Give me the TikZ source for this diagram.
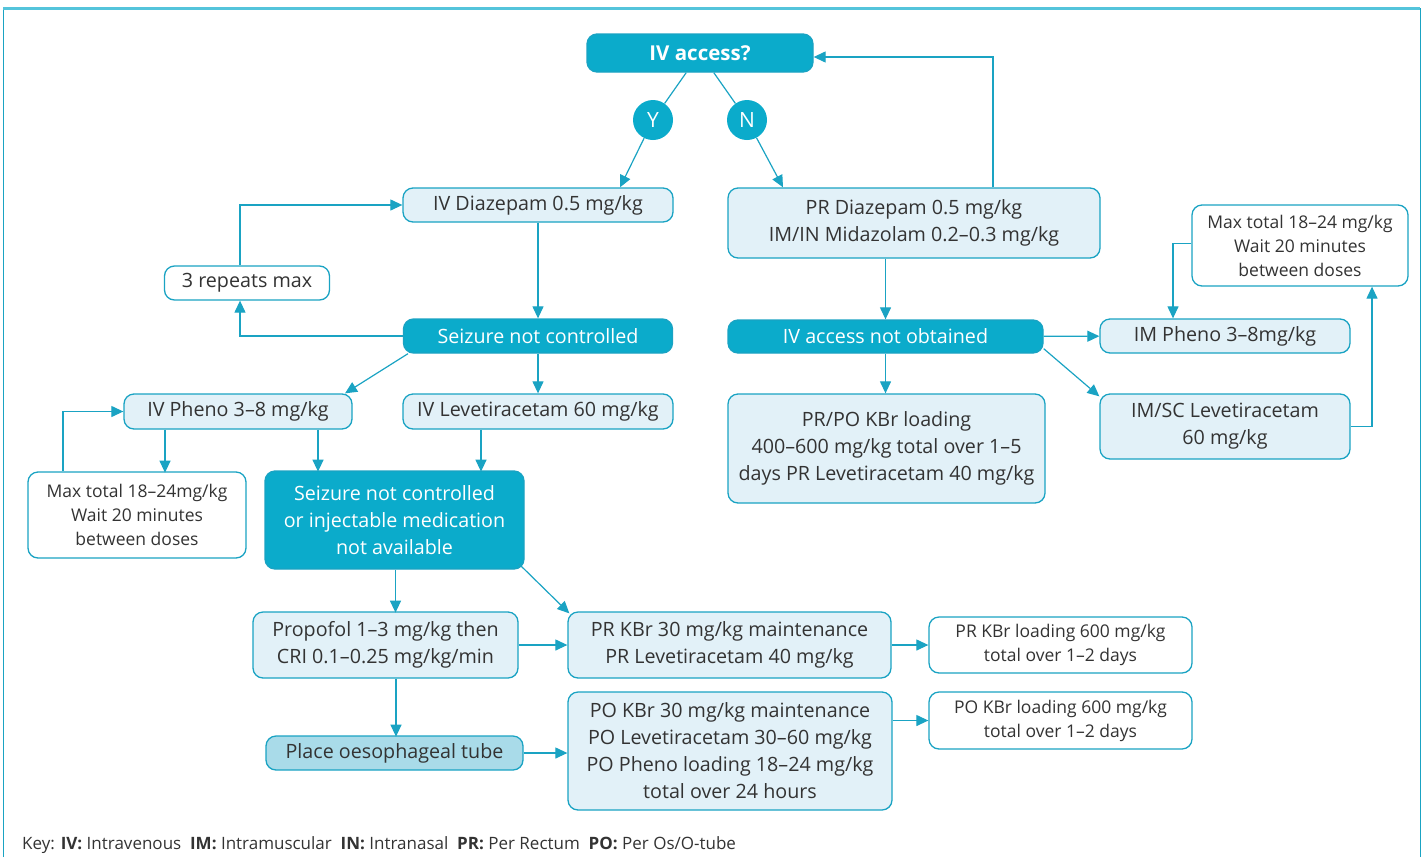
\documentclass[tikz,border=0pt]{standalone}
\usepackage{fontspec}
\setmainfont{Open Sans}
\usetikzlibrary{arrows.meta}
\definecolor{teal1}{HTML}{0BABCB}
\definecolor{edge1}{HTML}{1AA3C3}
\definecolor{light1}{HTML}{E2F1F8}
\definecolor{mid1}{HTML}{A9DBE9}
\definecolor{txt1}{HTML}{333333}
\tikzset{
  box/.style={draw=edge1, line width=1.3pt, rounded corners=10pt, fill=light1, text=txt1,
    align=center, inner sep=0pt, font=\fontsize{19.7}{27}\selectfont},
  darkbox/.style={box, fill=teal1, text=white},
  whitebox/.style={box, fill=white, font=\fontsize{17.5}{24}\selectfont},
  yn/.style={circle, fill=teal1, text=white, minimum size=40pt, inner sep=0pt, font=\fontsize{21}{24}\selectfont},
  line1/.style={draw=edge1, line width=1.2pt},
  arr/.style={line1, -{Triangle[length=12pt,width=11pt]}},
}
\begin{document}
\begin{tikzpicture}[x=1pt,y=-1pt]
\useasboundingbox (0,0) rectangle (1423,857);
% frame
\draw[draw=edge1, line width=1pt] (3,857) -- (3,8) -- (1420,8) -- (1420,857);
\draw[draw=teal1!70, line width=2.5pt] (3,8.5) -- (1420,8.5);

\node[darkbox, minimum width=226pt, minimum height=38pt, font=\fontsize{20.5}{24}\selectfont\bfseries] (access) at (700,53) {IV access?};
\node[yn] (Y) at (653,120) {Y};
\node[yn] (N) at (747,120) {N};

\node[box, minimum width=270pt, minimum height=34pt] (diaz) at (538,205) {IV Diazepam 0.5 mg/kg};
\node[box, minimum width=372pt, minimum height=70pt] (prd) at (914,223) {PR Diazepam 0.5 mg/kg\\IM/IN Midazolam 0.2--0.3 mg/kg};
\node[box, fill=white, minimum width=165pt, minimum height=34pt] (rep) at (247,283) {3 repeats max};
\node[darkbox, minimum width=269pt, minimum height=34pt] (seiz) at (538,336) {Seizure not controlled};
\node[darkbox, minimum width=315pt, minimum height=33pt] (ivno) at (885.5,336.5) {IV access not obtained};
\node[box, minimum width=250pt, minimum height=34pt] (imph) at (1225,336) {IM Pheno 3--8mg/kg};
\node[whitebox, minimum width=216pt, minimum height=81pt] (maxr) at (1300,245.5) {Max total 18--24 mg/kg\\Wait 20 minutes\\between doses};
\node[box, minimum width=250pt, minimum height=65pt] (imsc) at (1225,426.5) {IM/SC Levetiracetam\\60 mg/kg};
\node[box, minimum width=317pt, minimum height=109pt] (prpo) at (886.5,448.5) {PR/PO KBr loading\\400--600 mg/kg total over 1--5\\days PR Levetiracetam 40 mg/kg};
\node[box, minimum width=228pt, minimum height=35pt] (ivph) at (238,411.5) {IV Pheno 3--8 mg/kg};
\node[box, minimum width=270pt, minimum height=35pt] (ivlev) at (538,411.5) {IV Levetiracetam 60 mg/kg};
\node[whitebox, minimum width=218pt, minimum height=86pt] (maxl) at (137,515) {Max total 18--24mg/kg\\Wait 20 minutes\\between doses};
\node[darkbox, minimum width=259pt, minimum height=98pt] (big) at (394.5,520) {Seizure not controlled\\or injectable medication\\not available};
\node[box, minimum width=265pt, minimum height=66pt] (prop) at (385.5,645) {Propofol 1--3 mg/kg then\\CRI 0.1--0.25 mg/kg/min};
\node[box, minimum width=323pt, minimum height=66pt] (prkbr) at (729.5,645) {PR KBr 30 mg/kg maintenance\\PR Levetiracetam 40 mg/kg};
\node[whitebox, minimum width=263pt, minimum height=56pt] (prload) at (1060.5,645) {PR KBr loading 600 mg/kg\\total over 1--2 days};
\node[box, fill=mid1, minimum width=257pt, minimum height=34pt] (tube) at (394.5,753) {Place oesophageal tube};
\node[box, minimum width=324pt, minimum height=118pt] (pokbr) at (730,751) {PO KBr 30 mg/kg maintenance\\PO Levetiracetam 30--60 mg/kg\\PO Pheno loading 18--24 mg/kg\\total over 24 hours};
\node[whitebox, minimum width=263pt, minimum height=57pt] (poload) at (1060.5,720.5) {PO KBr loading 600 mg/kg\\total over 1--2 days};

\node[anchor=west, text=txt1, inner sep=0pt, font=\fontsize{17}{20}\selectfont] (key) at (22,845)
  {Key: \textbf{IV:} Intravenous\ \ \textbf{IM:} Intramuscular\ \ \textbf{IN:} Intranasal\ \ \textbf{PR:} Per Rectum\ \ \textbf{PO:} Per Os/O-tube};

% connectors
\draw[line1] (access) -- (Y);
\draw[line1] (access) -- (N);
\draw[arr] (Y) -- ([xshift=82pt]diaz.north);
\draw[arr] (N) -- ([xshift=-131pt]prd.north);
\draw[arr] ([xshift=79pt]prd.north) |- ([yshift=-4pt]access.east);
\draw[arr] ([xshift=-7pt]rep.north) |- (diaz.west);
\draw[arr] (seiz.west) -| ([xshift=-7pt]rep.south);
\draw[arr] (diaz) -- (seiz);
\draw[arr] ([xshift=-130pt]seiz.south) -- ([xshift=107pt]ivph.north);
\draw[arr] (seiz) -- (ivlev);
\draw[arr] ([xshift=-73pt]ivph.south) -- ++(0,43);
\draw[arr] ([xshift=-74pt]maxl.north) |- (ivph.west);
\draw[arr] ([xshift=80pt]ivph.south) -- ++(0,42);
\draw[arr] ([xshift=-57pt]ivlev.south) -- ++(0,42);
\draw[arr] ([xshift=1pt]big.south) -- ++(0,43);
\draw[arr] ([shift={(-6pt,6pt)}]big.south east) -- ([shift={(2pt,-2pt)}]prkbr.north west);
\draw[arr] (prop) -- (prkbr);
\draw[arr] (prkbr) -- (prload);
\draw[arr] ([xshift=10.5pt]prop.south) -- ++(0,58);
\draw[arr] (tube) -- (tube -| pokbr.west);
\draw[arr] (poload.west -| pokbr.east) -- (poload.west);
\draw[arr] (ivno.north |- prd.south) -- (ivno.north);
\draw[arr] (ivno) -- (imph);
\draw[arr] ([yshift=5pt]ivno.south east) -- ([shift={(0pt,-3pt)}]imsc.north west);
\draw[arr] (ivno.south) -- (ivno.south |- prpo.north);
\draw[arr] ([yshift=2pt]maxr.west) -| ([xshift=-52pt]imph.north);
\draw[arr] (imsc.east) -| ([xshift=72pt]maxr.south);
\end{tikzpicture}
\end{document}
